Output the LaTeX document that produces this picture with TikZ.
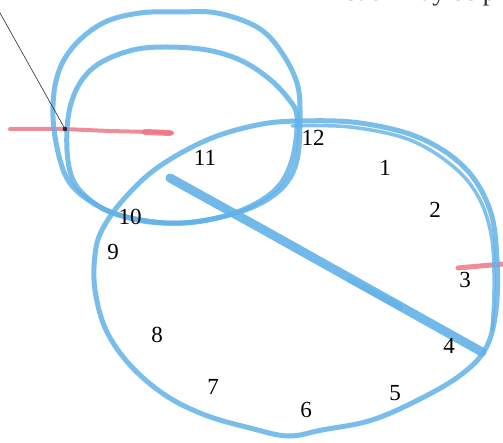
\documentclass[tikz,border=0pt]{standalone}
\usepackage{fontspec}
\setmainfont{Liberation Serif}
\definecolor{penblue}{RGB}{98,178,232}
\definecolor{penred}{RGB}{238,120,134}
\definecolor{inkgray}{RGB}{45,45,45}
\begin{document}
\begin{tikzpicture}[x=1pt,y=-1pt,
  bluestroke/.style={draw=penblue,draw opacity=0.85,line width=5pt,line cap=round,line join=round},
  thinblue/.style={draw=penblue,draw opacity=0.8,line width=3.5pt,line cap=round,line join=round},
  redstroke/.style={draw=penred,draw opacity=0.85,line width=4pt,line cap=round},
  numlabel/.style={font=\fontsize{23}{26}\selectfont,text=black,inner sep=0pt},
  leader/.style={draw=inkgray,line width=0.6pt}]
\useasboundingbox (0,0) rectangle (503,443);
\fill[white] (0,0) rectangle (503,443);

% cut-off text at the top
\node[font=\fontsize{26}{30}\selectfont,text=inkgray,anchor=base east,inner sep=0pt] (toptext) at (496,0.8) {such may be p};

% red strokes
\draw[redstroke] plot[smooth] coordinates {(10,129) (60,129) (110,131) (150,132) (172,133)};
\draw[draw=penred,draw opacity=0.85,line width=6pt,line cap=round] (145,132) -- (170,133);
\draw[redstroke,line width=5pt] plot[smooth] coordinates {(458,268) (480,266) (503,264)};

% small double loop (upper left)
\draw[bluestroke] plot[smooth cycle,tension=0.6] coordinates {
  (300,117) (297,83) (280,50) (257,27) (217,13) (180,12) (140,13) (103,23) (73,47)
  (57,77) (53,117) (60,160) (73,187) (100,207) (127,217) (167,223) (207,220)
  (253,207) (283,187) (297,160)};
\draw[bluestroke] plot[smooth cycle,tension=0.6] coordinates {
  (297,117) (287,97) (267,77) (240,60) (207,50) (167,47) (133,50) (100,63) (80,83)
  (69,112) (67,150) (73,180) (90,200) (113,213) (150,222) (195,222) (240,211)
  (275,190) (292,160)};

% big clock outline
\draw[bluestroke] plot[smooth cycle,tension=0.6] coordinates {
  (300,121) (360,123) (420,138) (465,168) (490,210) (497,260) (496,310) (486,348)
  (462,374) (422,398) (372,420) (322,430) (288,436) (250,428) (205,415) (165,395)
  (130,365) (106,330) (95,290) (95,255) (102,230) (123,200) (157,168) (207,140) (257,125)};
\draw[thinblue] plot[smooth,tension=0.6] coordinates {
  (292,126) (350,127) (410,140) (455,168) (480,200) (492,240) (494,290) (492,330)};

% hand (diagonal stroke)
\draw[draw=penblue,draw opacity=0.9,line width=9pt,line cap=round] (170,178) -- (262,229) -- (380,295) -- (482,352);
\draw[draw=penblue,draw opacity=0.6,line width=6pt,line cap=round] (350,280) -- (400,307);

% leader line with dot
\coordinate (lead) at (0,13);
\fill[inkgray] (65,129) circle (2.3pt) coordinate (dot);
\draw[leader] (lead) -- (dot);

% numbers
\node[numlabel] (n12) at (313,138) {12};
\node[numlabel] (n1) at (385,168) {1};
\node[numlabel] (n2) at (435,210) {2};
\node[numlabel] (n3) at (465,280) {3};
\node[numlabel] (n4) at (449,346) {4};
\node[numlabel] (n5) at (395,393) {5};
\node[numlabel] (n6) at (306,410) {6};
\node[numlabel] (n7) at (213,387) {7};
\node[numlabel] (n8) at (157,335) {8};
\node[numlabel] (n9) at (113,252) {9};
\node[numlabel] (n10) at (130,217) {10};
\node[numlabel] (n11) at (205,158) {11};
\end{tikzpicture}
\end{document}
